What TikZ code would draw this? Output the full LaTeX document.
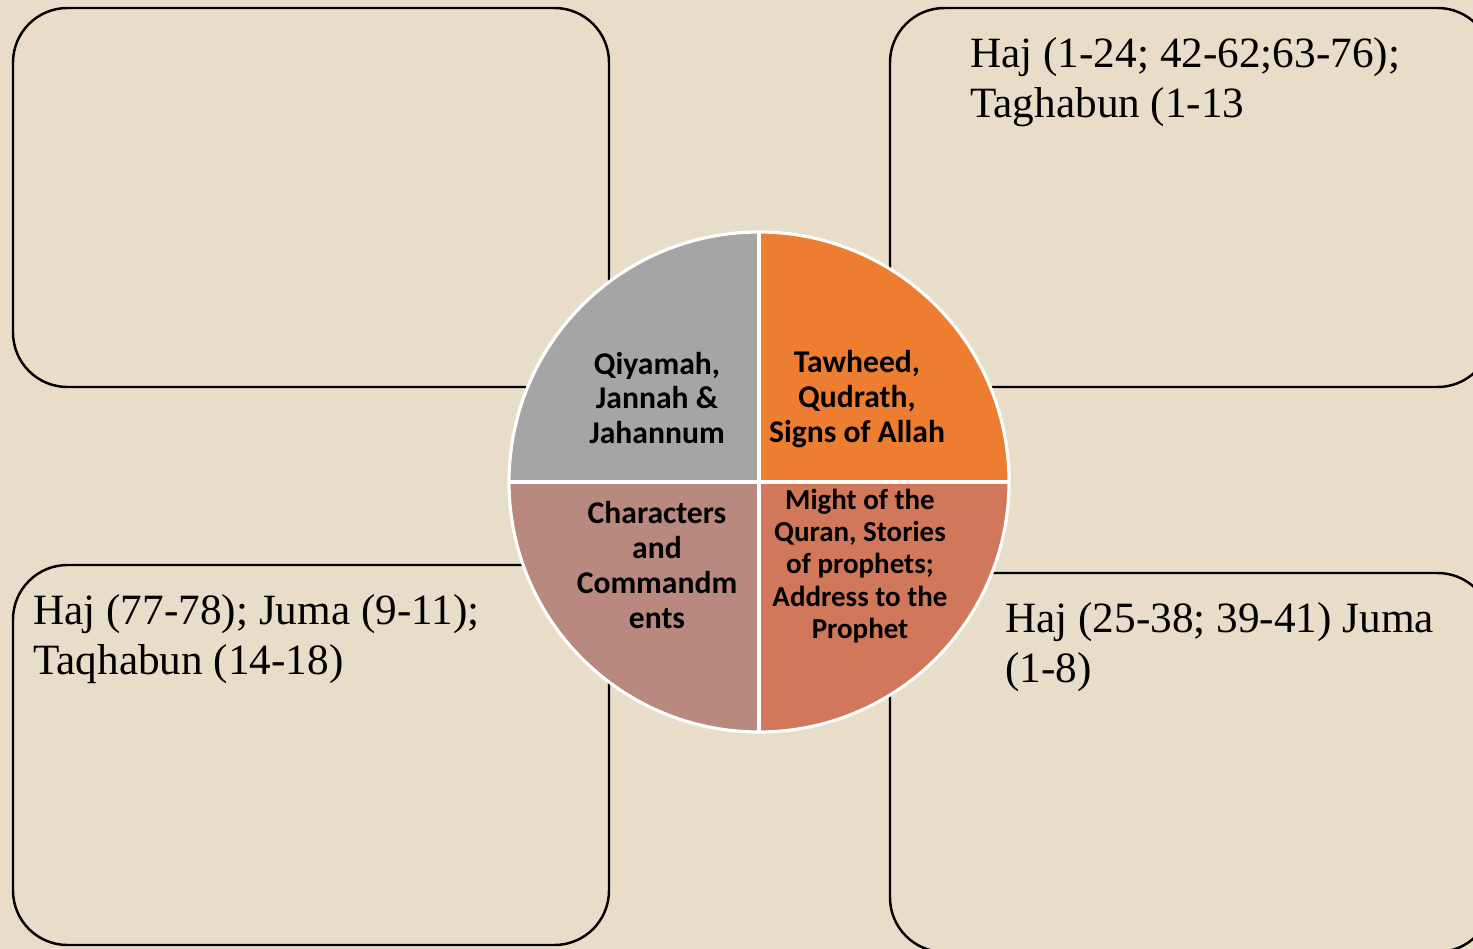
\documentclass[tikz,border=0pt]{standalone}
\usepackage{fontspec}
\setmainfont{Liberation Serif}
\newfontfamily\circfont{Carlito}
\definecolor{bgbeige}{RGB}{231,221,200}
\definecolor{qgray}{RGB}{165,165,165}
\definecolor{qorange}{RGB}{237,125,49}
\definecolor{qrose}{RGB}{185,136,127}
\definecolor{qbrick}{RGB}{210,120,90}
\tikzset{
  panel/.style={draw=black, line width=1.4pt, rounded corners=31pt},
  circtext/.style={font=\circfont\bfseries\fontsize{18}{19.8}\selectfont, align=center, text=black, inner sep=0pt},
  circtextsmall/.style={font=\circfont\bfseries\fontsize{16.5}{18.4}\selectfont, align=center, text=black, inner sep=0pt},
  paneltext/.style={font=\fontsize{24.6}{28.4}\selectfont, align=left, text=black, inner sep=0pt, anchor=north west}
}
\begin{document}
\begin{tikzpicture}[x=0.02cm, y=0.02cm]
\useasboundingbox (0,0) rectangle (1473,-949);
\fill[bgbeige] (0,0) rectangle (1473,-949);
\clip (0,0) rectangle (1473,-949);
% panels
\draw[panel] (13,-8) rectangle (609,-387);
\draw[panel] (890,-8) rectangle (1492,-387);
\draw[panel] (13,-565) rectangle (609,-945);
\draw[panel] (890,-573) rectangle (1492,-952);
% circle
\coordinate (c) at (759,-482);
\coordinate (ctop) at (759,-232);
\coordinate (cbot) at (759,-732);
\coordinate (cleft) at (509,-482);
\coordinate (cright) at (1009,-482);
\fill[qgray] (c) -- (ctop) arc[start angle=90, end angle=180, radius=250] -- cycle;
\fill[qorange] (c) -- (cright) arc[start angle=0, end angle=90, radius=250] -- cycle;
\fill[qrose] (c) -- (cleft) arc[start angle=180, end angle=270, radius=250] -- cycle;
\fill[qbrick] (c) -- (cbot) arc[start angle=270, end angle=360, radius=250] -- cycle;
\draw[white, line width=1.8pt] (c) circle[radius=250];
\draw[white, line width=2.2pt] (ctop) -- (cbot);
\draw[white, line width=2.2pt] (cleft) -- (cright);
% circle texts
\node[circtext] (qtl) at (657,-398) {Qiyamah,\\Jannah \&\\Jahannum};
\node[circtext] (qtr) at (857,-399) {Tawheed,\\Qudrath,\\Signs of Allah};
\node[circtext] (qbl) at (657,-565) {Characters\\and\\Commandm\\ents};
\node[circtextsmall] (qbr) at (860,-566) {Might of the\\Quran, Stories\\of prophets;\\Address to the\\Prophet};
% panel texts
\node[paneltext] (ttr) at (970,-37) {Haj (1-24; 42-62;63-76);\\Taghabun (1-13};
\node[paneltext] (tbl) at (33,-594) {Haj (77-78); Juma (9-11);\\Taqhabun (14-18)};
\node[paneltext] (tbr) at (1005,-602) {Haj (25-38; 39-41) Juma\\(1-8)};
\end{tikzpicture}
\end{document}
